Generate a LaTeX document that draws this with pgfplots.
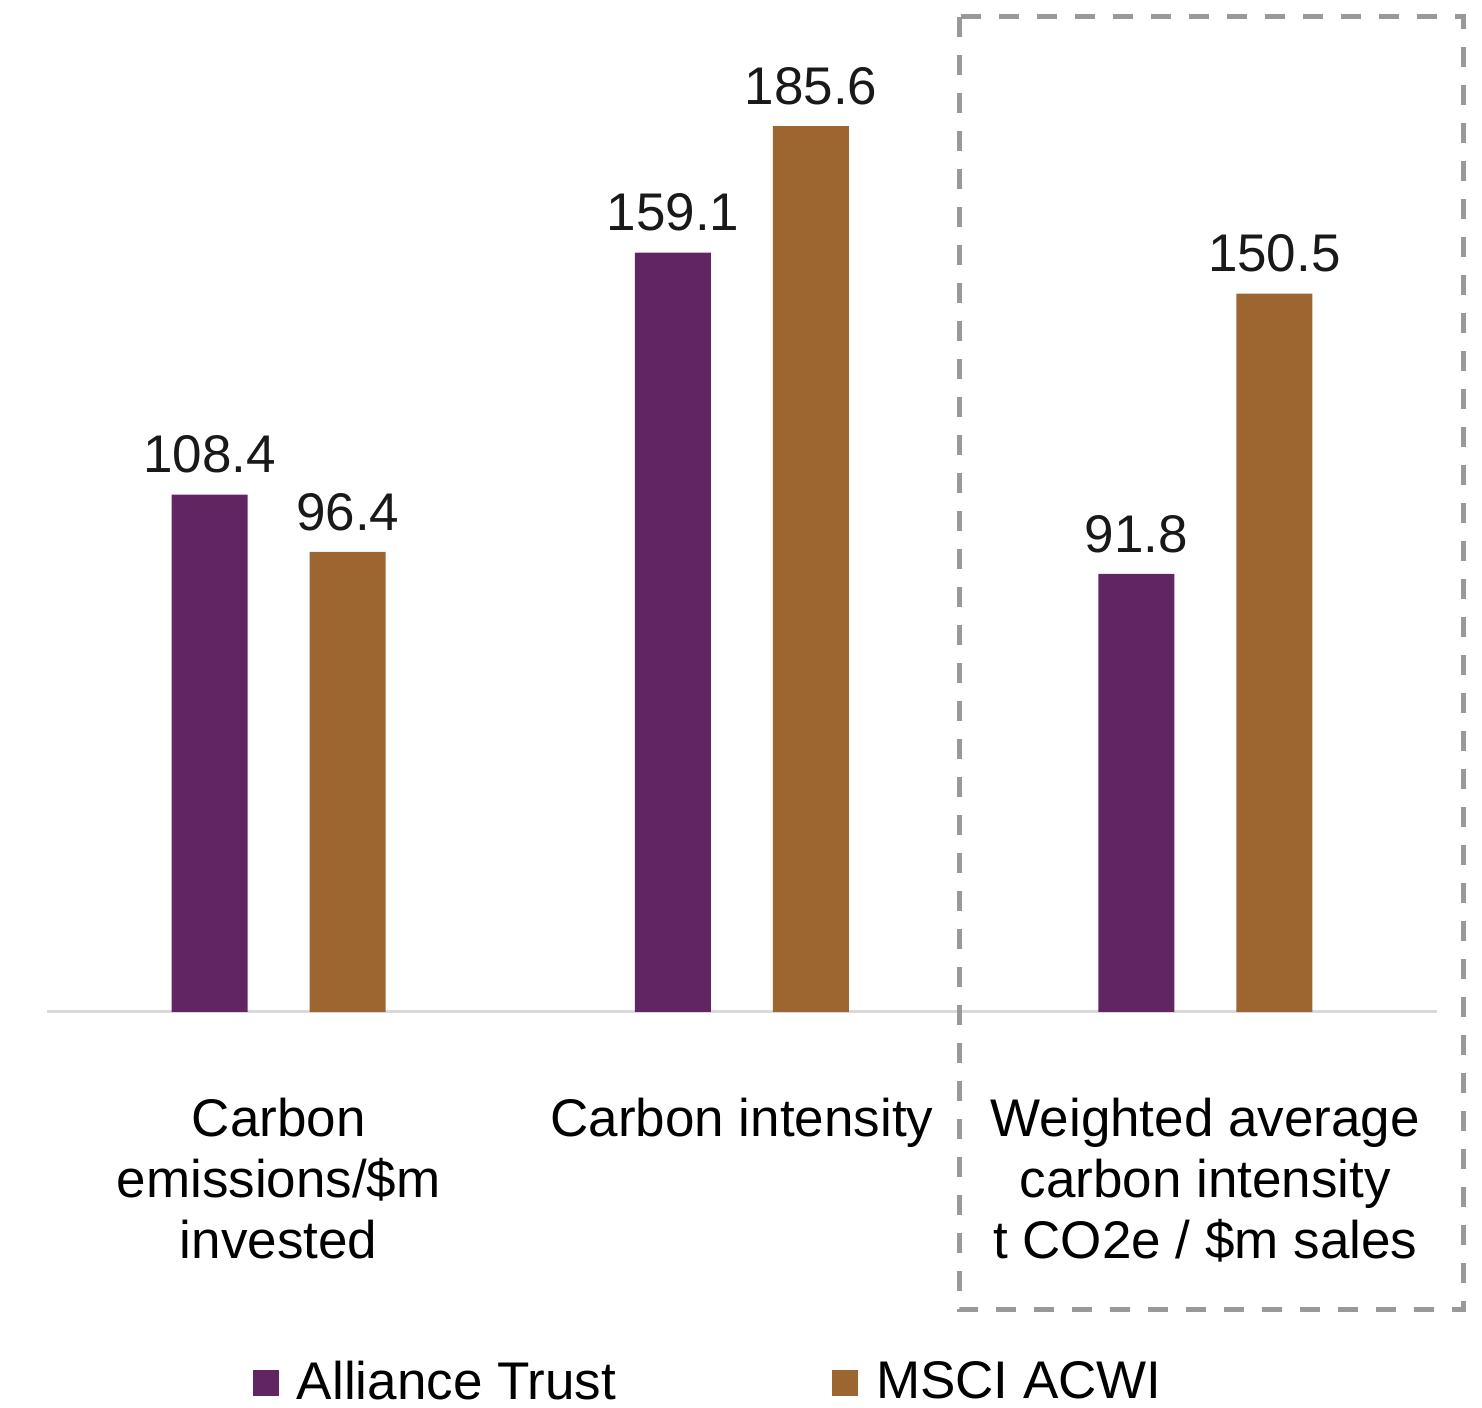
\documentclass[border=0pt]{standalone}
\usepackage{pgfplots}
\pgfplotsset{compat=1.18}
\usepackage{fontspec}
\setmainfont{Liberation Sans}

\definecolor{atpurple}{HTML}{622564}
\definecolor{acwibrown}{HTML}{9D6530}
\definecolor{axisgray}{HTML}{D9D9D9}
\definecolor{boxgray}{HTML}{999999}

\newcommand{\chartfont}{\fontsize{13.25}{15.25}\selectfont}

\begin{document}
\begin{tikzpicture}[x=1pt,y=1pt]
\useasboundingbox (0,0) rectangle (370.5,-352);
\begin{axis}[
  at={(11.75pt,-253pt)}, anchor=south west,
  scale only axis, width=347.5pt, height=253pt,
  ybar=15.5pt, bar width=19pt,
  xmin=-0.5, xmax=2.5, ymin=0, ymax=212,
  clip=false,
  axis x line*=bottom,
  hide y axis,
  x axis line style={draw=axisgray, line width=0.75pt},
  xtick=data,
  major tick length=0pt,
  xticklabels={{Carbon\\emissions/\$m\\invested},{Carbon intensity},{Weighted average\\carbon intensity\\t CO2e / \$m sales}},
  xticklabel style={align=center, anchor=north, font=\chartfont, yshift=-18pt},
  nodes near coords={\pgfmathprintnumber[fixed,fixed zerofill,precision=1,assume math mode=true]{\pgfplotspointmeta}},
  nodes near coords style={font=\chartfont, text=black!90, yshift=1.75pt},
  legend columns=2,
  legend style={at={(0.4815,-0.3666)}, anchor=center, draw=none, fill=none,
    font=\chartfont, /tikz/every even column/.append style={column sep=49.5pt}},
  legend image code/.code={\fill[#1] (0pt,-3.25pt) rectangle (6.5pt,3.25pt);},
  legend style={/tikz/every odd column/.append style={column sep=0pt}},
  legend style={nodes={inner xsep=4.5pt}},
]
\addplot[fill=atpurple, draw=none] coordinates {(0,108.4) (1,159.1) (2,91.8)};
\addlegendentry{Alliance Trust}
\addplot[fill=acwibrown, draw=none] coordinates {(0,96.4) (1,185.6) (2,150.5)};
\addlegendentry{MSCI ACWI}
\end{axis}
% dashed frame around the third group
\draw[boxgray, line width=1.25pt, dash pattern=on 5pt off 4.5pt]
  (239.75,-4.25) rectangle (365.75,-327.5);
\end{tikzpicture}
\end{document}
